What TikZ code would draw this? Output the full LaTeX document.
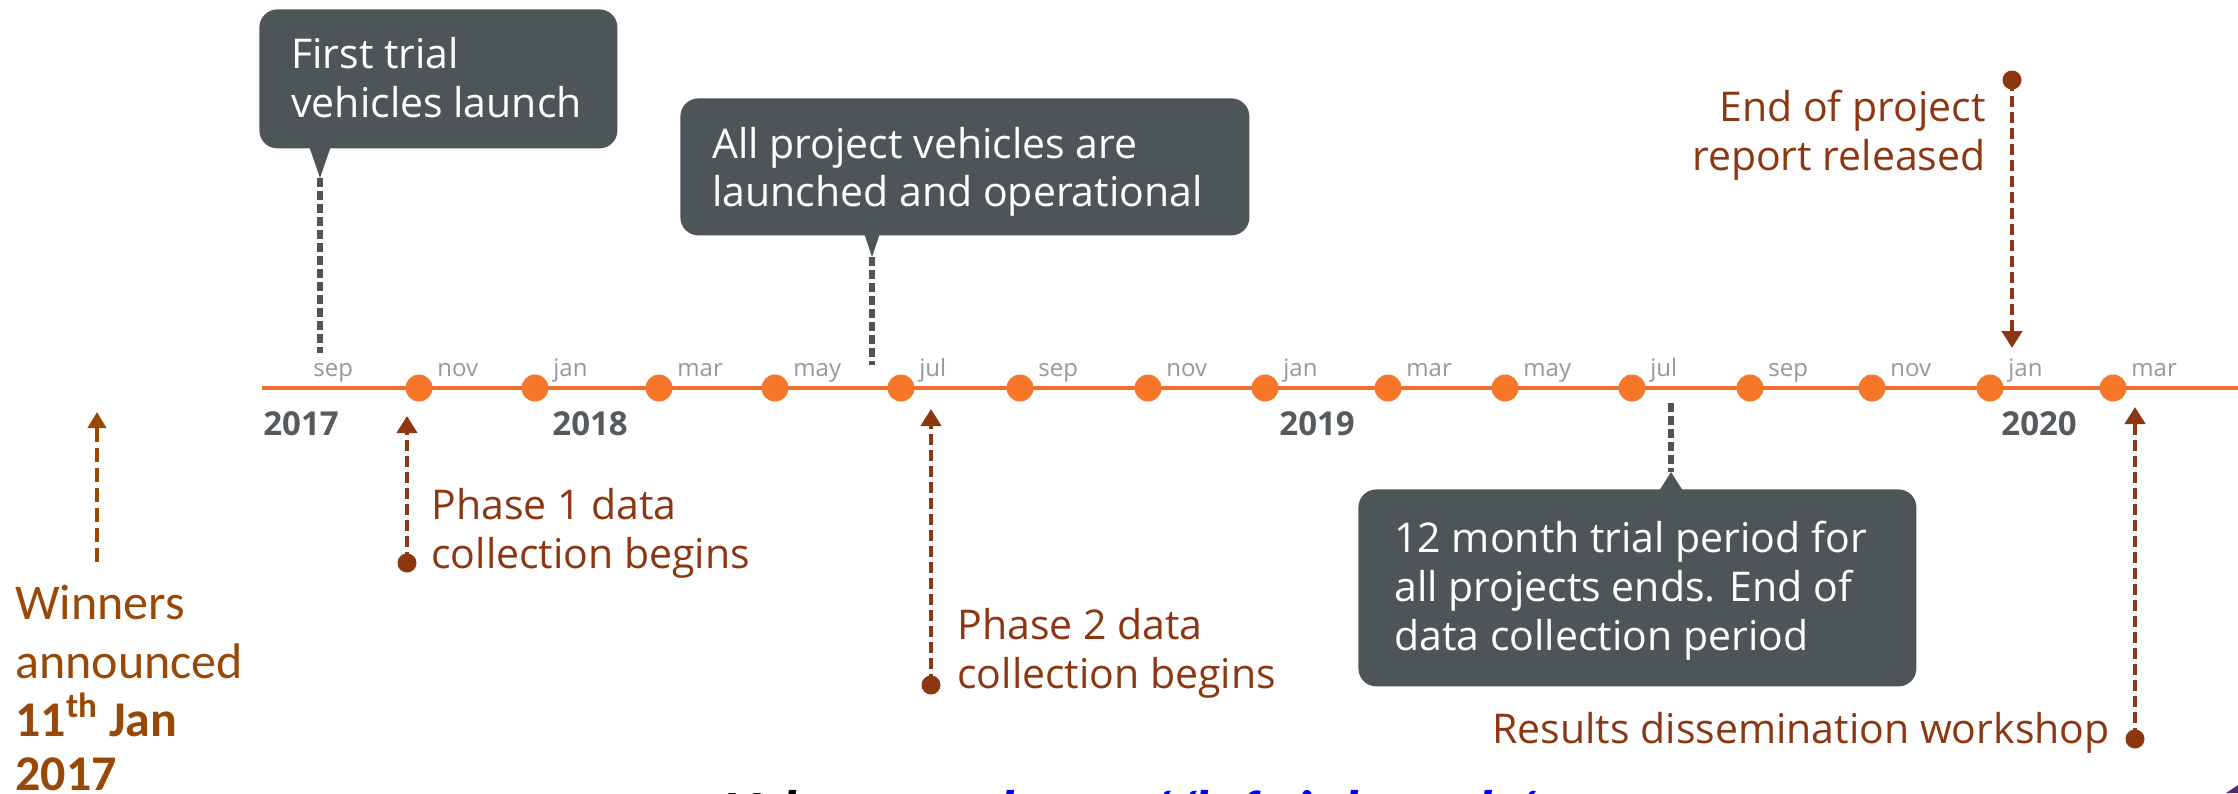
\documentclass[tikz,border=0pt]{standalone}
\usepackage{fontspec}
\setmainfont{Open Sans}
\newfontfamily\calib{Carlito}
\usetikzlibrary{arrows.meta}
\definecolor{tlorange}{RGB}{241,108,48}
\definecolor{dotorange}{RGB}{246,118,42}
\definecolor{monthgray}{RGB}{150,152,155}
\definecolor{yeargray}{RGB}{85,90,94}
\definecolor{bubblegray}{RGB}{78,85,88}
\definecolor{brownarr}{RGB}{140,55,18}
\definecolor{winbrown}{RGB}{152,72,7}
\definecolor{urlblue}{RGB}{0,0,255}
\definecolor{cornerpurple}{RGB}{80,40,120}
\begin{document}
\begin{tikzpicture}[x=0.5pt,y=-0.5pt,
  tlline/.style={draw=tlorange, line width=2pt},
  mdot/.style={circle, fill=dotorange, inner sep=0pt, minimum size=13.5pt},
  monthlbl/.style={anchor=base west, inner sep=0pt, text=monthgray, font=\fontsize{12}{14}\selectfont},
  yearlbl/.style={anchor=base west, inner sep=0pt, text=yeargray, font=\bfseries\fontsize{16.5}{20}\selectfont},
  bubble/.style={fill=bubblegray, rounded corners=9pt, inner sep=0pt, anchor=north west},
  btext/.style={anchor=base west, inner sep=0pt, text=white, font=\fontsize{20.5}{24}\selectfont},
  gdash/.style={draw=bubblegray, line width=2.6pt, dash pattern=on 4.5pt off 2pt},
  barrow/.style={draw=brownarr, line width=2.4pt, dash pattern=on 5.5pt off 2.5pt, -{Triangle[width=10pt,length=8.5pt]}},
  bdot/.style={circle, fill=brownarr, inner sep=0pt, minimum size=9.5pt},
  brtext/.style={inner sep=0pt, text=brownarr, font=\fontsize{20.5}{24}\selectfont},
  winarrow/.style={draw=winbrown, line width=2pt, dash pattern=on 7pt off 3pt, -{Triangle[width=9pt,length=8pt]}},
  wintxt/.style={anchor=base west, inner sep=0pt, text=winbrown, font=\calib\fontsize{25}{30}\selectfont},
  urltxt/.style={anchor=base west, inner sep=0pt, font=\calib\bfseries\itshape\fontsize{30}{36}\selectfont},
]
\useasboundingbox[fill=white] (0,0) rectangle (2238,793);

% timeline
\coordinate (tlstart) at (262,388);
\coordinate (tlend) at (2238,388);
\draw[tlline] (tlstart) -- (tlend);

% month dots and labels
\foreach \x/\m [count=\i] in {419/nov,535/jan,659/mar,775/may,901/jul,1020/sep,1148/nov,1265/jan,1388/mar,1505/may,1632/jul,1750/sep,1872/nov,1990/jan,2113/mar}{
  \node[mdot] (md\i) at (\x,388) {};
  \node[monthlbl] (ml\i) at (\x+18,376) {\m};
}
\node[monthlbl] (ml0) at (313,376) {sep};

% years
\node[yearlbl] (y2017) at (263,435) {2017};
\node[yearlbl] (y2018) at (552,435) {2018};
\node[yearlbl] (y2019) at (1279,435) {2019};
\node[yearlbl] (y2020) at (2001,435) {2020};

% bubble 1
\node[bubble, minimum width=179pt, minimum height=69.5pt] (b1) at (259,9) {};
\fill[bubblegray] (309,146) -- (331,146) -- (320,178) -- cycle;
\node[btext] (b1l1) at (291,68) {First trial};
\node[btext] (b1l2) at (291,117) {vehicles launch};
\coordinate (b1tip) at (320,178);
\coordinate (b1end) at (320,353);
\draw[gdash] (b1tip) -- (b1end);

% bubble 2
\node[bubble, minimum width=284.5pt, minimum height=68.5pt] (b2) at (680,98) {};
\fill[bubblegray] (864,233) -- (880,233) -- (872,257) -- cycle;
\node[btext] (b2l1) at (712,158) {All project vehicles are};
\node[btext] (b2l2) at (712,206) {launched and operational};
\coordinate (b2tip) at (872,257);
\coordinate (b2end) at (872,365);
\draw[gdash] (b2tip) -- (b2end);

% bubble 3
\node[bubble, minimum width=279pt, minimum height=98.5pt] (b3) at (1358,489) {};
\fill[bubblegray] (1659,491) -- (1683,491) -- (1671,472) -- cycle;
\node[btext] (b3l1) at (1394,552) {12 month trial period for};
\node[btext] (b3l2) at (1394,601) {all projects ends. End of};
\node[btext] (b3l3) at (1394,650) {data collection period};
\coordinate (b3tip) at (1671,472);
\coordinate (b3start) at (1671,403);
\draw[gdash] (b3start) -- (b3tip);

% phase 1
\node[bdot] (p1dot) at (407,563) {};
\coordinate (p1tip) at (407,416);
\draw[barrow] (p1dot.center) -- (p1tip);
\node[brtext, anchor=base west] (p1l1) at (431,519) {Phase 1 data};
\node[brtext, anchor=base west] (p1l2) at (431,568) {collection begins};

% phase 2
\node[bdot] (p2dot) at (931,685) {};
\coordinate (p2tip) at (931,409);
\draw[barrow] (p2dot.center) -- (p2tip);
\node[brtext, anchor=base west] (p2l1) at (957,639) {Phase 2 data};
\node[brtext, anchor=base west] (p2l2) at (957,688) {collection begins};

% end of project
\node[bdot] (epdot) at (2012,80) {};
\coordinate (eptip) at (2012,348);
\draw[barrow] (epdot.center) -- (eptip);
\node[brtext, anchor=base east] (epl1) at (1986,121) {End of project};
\node[brtext, anchor=base east] (epl2) at (1986,170) {report released};

% results workshop
\node[bdot] (rwdot) at (2135,739) {};
\coordinate (rwtip) at (2135,407);
\draw[barrow] (rwdot.center) -- (rwtip);
\node[brtext, anchor=base east] (rwl) at (2110,743) {Results dissemination workshop};

% winners
\coordinate (wbot) at (97,562);
\coordinate (wtip) at (97,412);
\draw[winarrow] (wbot) -- (wtip);
\node[wintxt] (w1) at (15,619) {Winners};
\node[wintxt] (w2) at (15,678) {announced};
\node[wintxt] (w3) at (15,736) {\bfseries 11\textsuperscript{th} Jan};
\node[wintxt] (w4) at (15,790) {\bfseries 2017};

% url (cut off at the bottom edge)
\node[urltxt] (urllbl) at (722,832) {Url:};
\node[urltxt, text=urlblue] (urllink) at (1000,832) {https://leftrial.co.uk/};

% corner mark
\fill[cornerpurple] (2226,793) -- (2238,785) -- (2238,793) -- cycle;
\end{tikzpicture}
\end{document}
